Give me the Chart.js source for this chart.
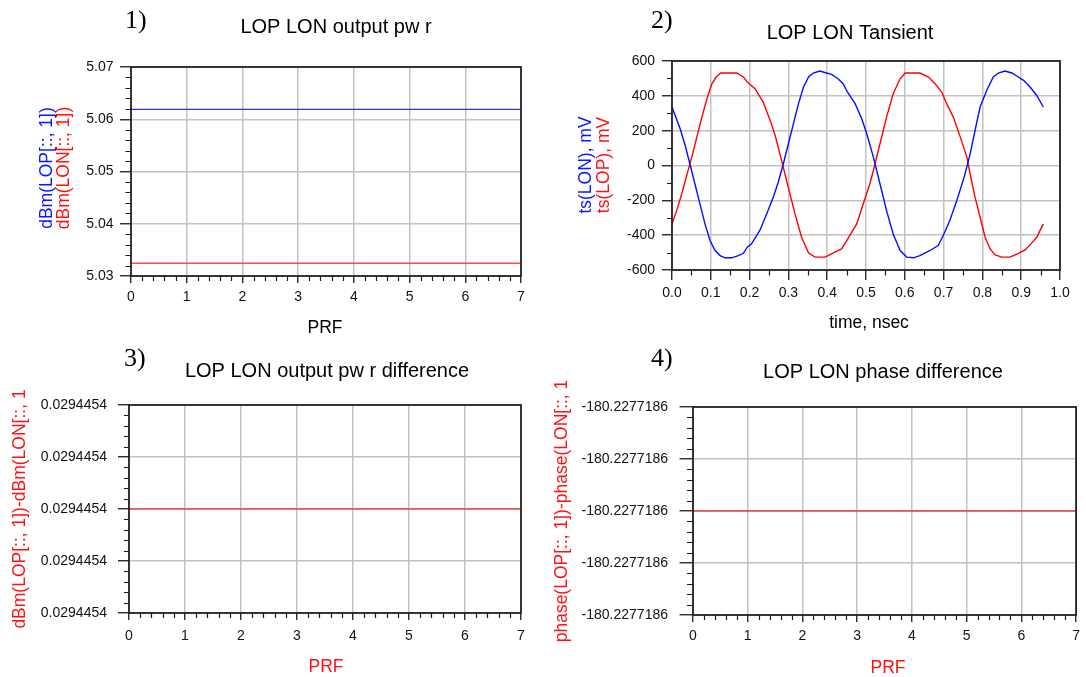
<!DOCTYPE html>
<html>
<head>
<meta charset="utf-8">
<title>LOP / LON</title>
<script src="https://cdn.jsdelivr.net/npm/chart.js@4.4.1/dist/chart.umd.min.js"></script>
<style>
  html, body { margin: 0; padding: 0; background: #fff; }
  body { width: 1086px; height: 677px; position: relative; overflow: hidden; }
  canvas { position: absolute; }
</style>
</head>
<body>
<canvas id="pwr" width="543" height="340" style="left:0;top:0"></canvas>
<canvas id="tran" width="543" height="340" style="left:543px;top:0"></canvas>
<canvas id="pwrDiff" width="543" height="337" style="left:0;top:340px"></canvas>
<canvas id="phaseDiff" width="543" height="337" style="left:543px;top:340px"></canvas>
<script>
// ---- data ----
const prf = [0, 1, 2, 3, 4, 5, 6, 7];
const lopDbm = [5.0619, 5.0619, 5.0619, 5.0619, 5.0619, 5.0619, 5.0619, 5.0619];
const lonDbm = [5.0324546, 5.0324546, 5.0324546, 5.0324546, 5.0324546, 5.0324546, 5.0324546, 5.0324546];
const dbmTicks = [5.03, 5.04, 5.05, 5.06, 5.07];

// transient, time in nsec / voltage in mV
const tLon = [0.000, 0.021, 0.034, 0.046, 0.059, 0.072, 0.085, 0.098, 0.111, 0.124, 0.137, 0.154, 0.171, 0.184,
  0.194, 0.205, 0.227, 0.244, 0.261, 0.274, 0.287, 0.300, 0.313, 0.326, 0.339, 0.352, 0.364, 0.381, 0.398,
  0.411, 0.428, 0.441, 0.452, 0.472, 0.489, 0.502, 0.519, 0.536, 0.553, 0.570, 0.588, 0.605, 0.622, 0.639,
  0.665, 0.686, 0.699, 0.716, 0.734, 0.753, 0.768, 0.781, 0.794, 0.811, 0.828, 0.841, 0.858, 0.876, 0.893,
  0.906, 0.923, 0.940, 0.957];
const vLon = [336, 211, 115, 10, -105, -220, -335, -431, -488, -517, -530, -530, -517, -504,
  -469, -450, -370, -278, -182, -95, 10, 125, 240, 355, 451, 508, 531, 542, 531,
  523, 498, 470, 422, 355, 268, 182, 48, -105, -259, -393, -488, -526, -530, -517,
  -488, -460, -402, -316, -201, -67, 62, 201, 336, 431, 508, 531, 542, 531, 508,
  489, 451, 402, 336];
const tLop = [0.000, 0.012, 0.025, 0.038, 0.051, 0.064, 0.077, 0.090, 0.103, 0.115, 0.126, 0.167, 0.184,
  0.194, 0.214, 0.235, 0.253, 0.266, 0.278, 0.291, 0.304, 0.317, 0.334, 0.352, 0.369, 0.394, 0.411,
  0.437, 0.448, 0.476, 0.493, 0.510, 0.519, 0.536, 0.553, 0.570, 0.588, 0.601, 0.639, 0.661, 0.678,
  0.695, 0.708, 0.725, 0.742, 0.760, 0.768, 0.781, 0.794, 0.807, 0.820, 0.833, 0.850, 0.871, 0.893,
  0.910, 0.925, 0.940, 0.957];
const vLop = [-335, -259, -163, -57, 48, 163, 278, 383, 470, 511, 531, 531, 508,
  479, 441, 364, 259, 172, 67, -48, -163, -278, -412, -503, -526, -526, -507,
  -479, -440, -335, -220, -105, -29, 125, 278, 412, 498, 531, 531, 508, 470,
  422, 355, 278, 170, 48, -45, -182, -297, -412, -479, -513, -526, -526, -504,
  -485, -450, -412, -335];
const timeTicks = [0, 0.1, 0.2, 0.3, 0.4, 0.5, 0.6, 0.7, 0.8, 0.9, 1.0];
const mvTicks = [-600, -400, -200, 0, 200, 400, 600];

const pwrDiff = [0.0294454, 0.0294454, 0.0294454, 0.0294454, 0.0294454, 0.0294454, 0.0294454, 0.0294454];
const pwrDiffTicks = [0.02944538, 0.02944539, 0.0294454, 0.02944541, 0.02944542];
const pwrDiffTickLabels = ['0.0294454', '0.0294454', '0.0294454', '0.0294454', '0.0294454'];

const phaseDiff = [-180.2277186, -180.2277186, -180.2277186, -180.2277186, -180.2277186, -180.2277186, -180.2277186, -180.2277186];
const phaseDiffTicks = [-180.22771862, -180.22771861, -180.2277186, -180.22771859, -180.22771858];
const phaseDiffTickLabels = ['-180.2277186', '-180.2277186', '-180.2277186', '-180.2277186', '-180.2277186'];

// ---- look ----
const SANS = "'Liberation Sans', Arial, sans-serif";
const SERIF = "'Liberation Serif', 'Times New Roman', serif";
const GRID = '#c2c2c2';
const INK = '#1a1a1a';
const BLUE = '#0a14ff';
const RED = '#ff1010';

Chart.defaults.font.family = SANS;
Chart.defaults.color = '#111';

const pts = (xs, ys) => xs.map((x, i) => ({ x: x, y: ys[i] }));

// minor ticks, frame and free text (titles, axis names, panel numbers)
const panelDecor = {
  id: 'panelDecor',
  afterDatasetsDraw(chart, args, o) {
    const ctx = chart.ctx;
    const a = chart.chartArea;
    const sx = chart.scales.x, sy = chart.scales.y;
    ctx.save();
    ctx.strokeStyle = INK;
    ctx.lineWidth = 1.2;
    ctx.beginPath();
    const xt = sx.ticks.map(t => t.value);
    for (let i = 0; i < xt.length - 1; i++) {
      for (let k = 1; k < o.xMinor; k++) {
        const px = Math.round(sx.getPixelForValue(xt[i] + (xt[i + 1] - xt[i]) * k / o.xMinor)) + 0.5;
        ctx.moveTo(px, a.bottom);
        ctx.lineTo(px, a.bottom + o.xMinorLen);
      }
    }
    const yt = sy.ticks.map(t => t.value);
    for (let i = 0; i < yt.length - 1; i++) {
      for (let k = 1; k < o.yMinor; k++) {
        const py = Math.round(sy.getPixelForValue(yt[i] + (yt[i + 1] - yt[i]) * k / o.yMinor)) + 0.5;
        ctx.moveTo(a.left - o.yMinorLen, py);
        ctx.lineTo(a.left, py);
      }
    }
    ctx.stroke();
    ctx.lineWidth = 1.7;
    ctx.strokeRect(a.left, a.top, a.right - a.left, a.bottom - a.top);
    ctx.restore();
  },
  afterDraw(chart, args, o) {
    const ctx = chart.ctx;
    const [ox, oy] = o.origin;
    o.texts.forEach(t => {
      ctx.save();
      ctx.font = t.font;
      ctx.fillStyle = t.color || '#000';
      ctx.textAlign = t.align || 'center';
      ctx.textBaseline = t.baseline || 'middle';
      ctx.translate(t.x - ox, t.y - oy);
      if (t.rotate) ctx.rotate(-Math.PI / 2);
      ctx.fillText(t.text, 0, 0);
      ctx.restore();
    });
  }
};

function axis(p) {
  return {
    type: 'linear',
    min: p.ticks[0],
    max: p.ticks[p.ticks.length - 1],
    afterBuildTicks: s => { s.ticks = p.ticks.map(v => ({ value: v })); },
    afterFit: p.fit,
    border: { display: false },
    grid: { color: GRID, lineWidth: 1.5, tickColor: INK, tickWidth: 1.3, tickLength: p.tickLen },
    ticks: {
      padding: p.pad, color: '#111', font: { size: 14 },
      maxRotation: 0, autoSkip: false, callback: p.label
    }
  };
}

function makePanel(id, cfg) {
  return new Chart(document.getElementById(id), {
    type: 'line',
    data: { datasets: cfg.datasets.map(d => Object.assign({ pointRadius: 0, tension: 0, fill: false }, d)) },
    options: {
      responsive: false,
      animation: false,
      devicePixelRatio: 1,
      layout: { autoPadding: false, padding: { left: 0, top: cfg.top, right: cfg.right, bottom: 0 } },
      plugins: {
        legend: { display: false },
        tooltip: { enabled: false },
        panelDecor: cfg.decor
      },
      scales: {
        x: axis(Object.assign({ fit: s => { s.height = cfg.xHeight; } }, cfg.x)),
        y: axis(Object.assign({ fit: s => { s.width = cfg.yWidth; } }, cfg.y))
      }
    },
    plugins: [panelDecor]
  });
}

const numFont = '26px ' + SERIF;
const titleFont = '20px ' + SANS;
const labelFont = '17.5px ' + SANS;

// 1) output power of both ports
makePanel('pwr', {
  top: 67, right: 22, xHeight: 64, yWidth: 131,
  x: { ticks: prf, tickLen: 7, pad: 6, label: v => String(v) },
  y: { ticks: dbmTicks, tickLen: 11, pad: 6.5, label: v => v.toFixed(2) },
  datasets: [
    { data: pts(prf, lopDbm), borderColor: '#3030ff', borderWidth: 1.3 },
    { data: pts(prf, lonDbm), borderColor: '#ff4a4a', borderWidth: 1.5 }
  ],
  decor: {
    origin: [0, 0], xMinor: 5, xMinorLen: 5, yMinor: 5, yMinorLen: 5.5,
    texts: [
      { text: '1)', x: 125, y: 28, font: numFont, align: 'left', baseline: 'alphabetic' },
      { text: 'LOP LON output pw r', x: 336, y: 27, font: titleFont },
      { text: 'PRF', x: 325, y: 328, font: labelFont },
      { text: 'dBm(LOP[::, 1])', x: 47, y: 168, font: labelFont, color: BLUE, rotate: true },
      { text: 'dBm(LON[::, 1])', x: 64, y: 168, font: labelFont, color: RED, rotate: true }
    ]
  }
});

// 2) transient waveforms
makePanel('tran', {
  top: 61, right: 26, xHeight: 70, yWidth: 129,
  x: { ticks: timeTicks, tickLen: 10, pad: 5, label: v => v.toFixed(1) },
  y: { ticks: mvTicks, tickLen: 10, pad: 7, label: v => String(v) },
  datasets: [
    { data: pts(tLon, vLon), borderColor: '#0010ff', borderWidth: 1.4 },
    { data: pts(tLop, vLop), borderColor: '#ff0000', borderWidth: 1.4 }
  ],
  decor: {
    origin: [543, 0], xMinor: 2, xMinorLen: 5.5, yMinor: 2, yMinorLen: 5,
    texts: [
      { text: '2)', x: 651, y: 28, font: numFont, align: 'left', baseline: 'alphabetic' },
      { text: 'LOP LON Tansient', x: 850, y: 33, font: titleFont },
      { text: 'time, nsec', x: 869, y: 323, font: labelFont },
      { text: 'ts(LON), mV', x: 586, y: 165, font: labelFont, color: BLUE, rotate: true },
      { text: 'ts(LOP), mV', x: 604, y: 165, font: labelFont, color: RED, rotate: true }
    ]
  }
});

// 3) power difference LOP - LON
makePanel('pwrDiff', {
  top: 65, right: 22, xHeight: 64, yWidth: 129,
  x: { ticks: prf, tickLen: 7, pad: 8, label: v => String(v) },
  y: { ticks: pwrDiffTicks, tickLen: 11, pad: 11, label: (v, i) => pwrDiffTickLabels[i] },
  datasets: [
    { data: pts(prf, pwrDiff), borderColor: '#e80000', borderWidth: 1.2 }
  ],
  decor: {
    origin: [0, 340], xMinor: 5, xMinorLen: 5, yMinor: 5, yMinorLen: 5,
    texts: [
      { text: '3)', x: 124, y: 366, font: numFont, align: 'left', baseline: 'alphabetic' },
      { text: 'LOP LON output pw r difference', x: 327, y: 371, font: titleFont },
      { text: 'PRF', x: 326, y: 667, font: labelFont, color: RED },
      { text: 'dBm(LOP[::, 1])-dBm(LON[::, 1', x: 20, y: 509, font: labelFont, color: RED, rotate: true }
    ]
  }
});

// 4) phase difference LOP - LON
makePanel('phaseDiff', {
  top: 67, right: 4, xHeight: 62, yWidth: 150,
  x: { ticks: prf, tickLen: 7, pad: 6, label: v => String(v) },
  y: { ticks: phaseDiffTicks, tickLen: 13.5, pad: 11.5, label: (v, i) => phaseDiffTickLabels[i] },
  datasets: [
    { data: pts(prf, phaseDiff), borderColor: '#e80000', borderWidth: 1.2 }
  ],
  decor: {
    origin: [543, 340], xMinor: 5, xMinorLen: 5, yMinor: 5, yMinorLen: 6,
    texts: [
      { text: '4)', x: 651, y: 366, font: numFont, align: 'left', baseline: 'alphabetic' },
      { text: 'LOP LON phase difference', x: 883, y: 372, font: titleFont },
      { text: 'PRF', x: 888, y: 668, font: labelFont, color: RED },
      { text: 'phase(LOP[::, 1])-phase(LON[::, 1', x: 562, y: 511, font: labelFont, color: RED, rotate: true }
    ]
  }
});
</script>
</body>
</html>
